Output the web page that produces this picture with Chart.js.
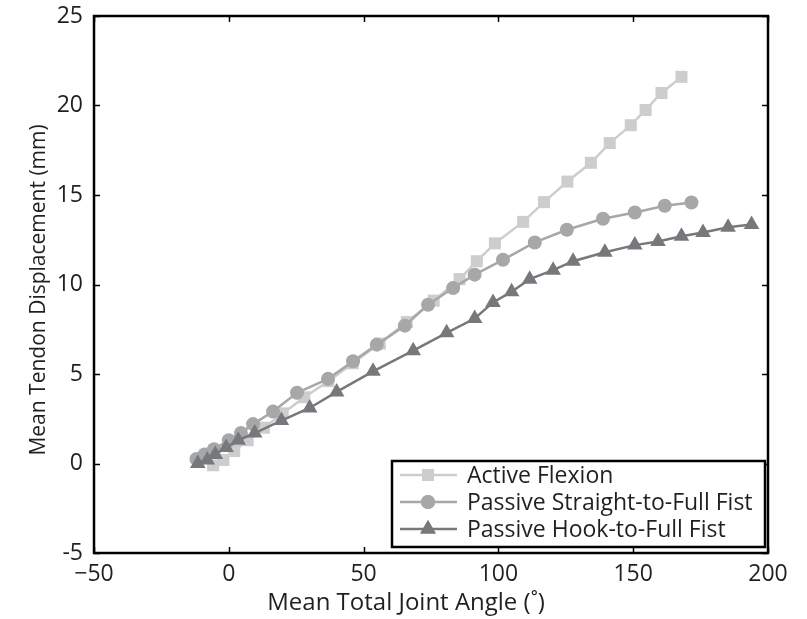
<!DOCTYPE html>
<html>
<head>
<meta charset="utf-8">
<script src="https://cdn.jsdelivr.net/npm/chart.js@4.4.0/dist/chart.umd.min.js"></script>
<style>
  html, body { margin: 0; padding: 0; background: #fff; }
</style>
</head>
<body>
<canvas id="tendonChart" width="807" height="619"></canvas>
<script>
// axis ticks
const xTicks = [-50, 0, 50, 100, 150, 200];
const yTicks = [-5, 0, 5, 10, 15, 20, 25];

// series names
const seriesNames = ['Active Flexion', 'Passive Straight-to-Full Fist', 'Passive Hook-to-Full Fist'];

// Active Flexion
const activeAngle = [-5.8, -2, 2, 7, 13, 20, 28, 37, 46, 56, 66, 76, 85.6, 92, 98.7, 109.2, 116.9, 125.6, 134.3, 141.3, 149.1, 154.6, 160.5, 167.9];
const activeDisp  = [-0.1, 0.2, 0.7, 1.3, 2.0, 2.8, 3.7, 4.6, 5.6, 6.7, 7.9, 9.1, 10.3, 11.3, 12.3, 13.5, 14.6, 15.75, 16.8, 17.9, 18.9, 19.75, 20.7, 21.6];

// Passive Straight-to-Full Fist
const straightAngle = [-12, -9, -5.5, 0, 4.5, 9, 16.4, 25.3, 36.8, 46.1, 54.9, 65.3, 73.9, 83.2, 91.2, 101.7, 113.5, 125.4, 138.8, 150.6, 161.7, 171.6];
const straightDisp  = [0.25, 0.5, 0.8, 1.3, 1.7, 2.2, 2.9, 3.95, 4.73, 5.71, 6.64, 7.7, 8.87, 9.8, 10.55, 11.38, 12.35, 13.06, 13.67, 14.02, 14.4, 14.58];

// Passive Hook-to-Full Fist
const hookAngle = [-11.5, -8, -5, -1, 3.5, 9.6, 19.5, 30, 40, 53.5, 68.4, 80.8, 91.2, 98, 104.9, 111.6, 120.3, 127.7, 139.5, 150.6, 159.2, 167.9, 175.9, 185.2, 193.9];
const hookDisp  = [0.0, 0.2, 0.5, 0.9, 1.3, 1.7, 2.4, 3.1, 4.0, 5.15, 6.3, 7.3, 8.1, 9.0, 9.6, 10.3, 10.8, 11.3, 11.8, 12.2, 12.4, 12.7, 12.9, 13.2, 13.35];

const toPoints = (xs, ys) => xs.map((x, i) => ({ x, y: ys[i] }));

const FONT = '"Open Sans", "Noto Sans", sans-serif';
const TEXT = '#231f20';
const NBSP = '\u00a0';

const series = [
  { name: seriesNames[0], data: toPoints(activeAngle, activeDisp), color: '#cdcdce', style: 'rect', radius: 8.5, order: 2 },
  { name: seriesNames[1], data: toPoints(straightAngle, straightDisp), color: '#a6a7a9', style: 'circle', radius: 7, order: 1 },
  { name: seriesNames[2], data: toPoints(hookAngle, hookDisp), color: '#77787b', style: 'triangle', radius: 9, order: 0 }
];

// frame, inward ticks and legend box
const framePlugin = {
  id: 'frame',
  afterDatasetsDraw(chart) {
    const { ctx, chartArea: a, scales } = chart;
    const tl = 6;
    ctx.save();
    ctx.strokeStyle = '#000';
    ctx.lineWidth = 1.5;
    ctx.beginPath();
    xTicks.forEach(v => {
      const px = Math.round(scales.x.getPixelForValue(v)) + 0.5;
      ctx.moveTo(px, a.bottom); ctx.lineTo(px, a.bottom - tl);
      ctx.moveTo(px, a.top); ctx.lineTo(px, a.top + tl);
    });
    yTicks.forEach(v => {
      const py = Math.round(scales.y.getPixelForValue(v)) + 0.5;
      ctx.moveTo(a.left, py); ctx.lineTo(a.left + tl, py);
      ctx.moveTo(a.right, py); ctx.lineTo(a.right - tl, py);
    });
    ctx.stroke();

    // legend
    const w = 373, h = 86;
    const lx = a.right - 3 - w, ly = a.bottom - 6 - h;
    ctx.fillStyle = '#fff';
    ctx.fillRect(lx, ly, w, h);
    ctx.lineWidth = 2.5;
    ctx.strokeRect(lx, ly, w, h);
    ctx.font = '23px ' + FONT;
    ctx.textBaseline = 'middle';
    ctx.textAlign = 'left';
    series.forEach((s, i) => {
      const y = ly + 14 + i * 27;
      ctx.strokeStyle = s.color;
      ctx.lineWidth = 2.5;
      ctx.beginPath();
      ctx.moveTo(lx + 8, y); ctx.lineTo(lx + 65, y);
      ctx.stroke();
      ctx.fillStyle = s.color;
      Chart.helpers.drawPoint(ctx, { pointStyle: s.style, radius: s.radius, borderWidth: 0 }, lx + 36, y);
      ctx.fill();
      ctx.fillStyle = TEXT;
      ctx.fillText(s.name, lx + 75, y + 1);
    });

    // axes box
    ctx.strokeStyle = '#000';
    ctx.lineWidth = 2.5;
    ctx.strokeRect(a.left, a.top, a.right - a.left, a.bottom - a.top);
    ctx.restore();
  }
};

new Chart(document.getElementById('tendonChart'), {
  type: 'scatter',
  data: {
    datasets: series.map(s => ({
      label: s.name,
      data: s.data,
      showLine: true,
      borderColor: s.color,
      backgroundColor: s.color,
      borderWidth: 2.5,
      pointStyle: s.style,
      pointRadius: s.radius,
      pointBorderWidth: 0,
      pointBackgroundColor: s.color,
      order: s.order
    }))
  },
  options: {
    responsive: false,
    devicePixelRatio: 1,
    animation: false,
    layout: { padding: { top: 16, right: 39, left: 0, bottom: 0 } },
    plugins: { legend: { display: false }, tooltip: { enabled: false } },
    scales: {
      x: {
        type: 'linear',
        min: -50,
        max: 200,
        afterBuildTicks: (s) => { s.ticks = xTicks.map(v => ({ value: v })); },
        afterFit: (s) => { s.height = 66; s.paddingLeft = 0; s.paddingRight = 0; },
        grid: { display: false, drawTicks: false },
        border: { display: false },
        ticks: {
          color: TEXT,
          font: { family: FONT, size: 23 },
          padding: 8,
          maxRotation: 0,
          callback: (v) => v < 0 ? '\u2212' + Math.abs(v) : String(v)
        },
        title: {
          display: true,
          text: 'Mean Total Joint Angle (\u02da)' + NBSP.repeat(8),
          color: TEXT,
          font: { family: FONT, size: 24 },
          padding: { top: 0, bottom: 1 }
        }
      },
      y: {
        type: 'linear',
        min: -5,
        max: 25,
        afterBuildTicks: (s) => { s.ticks = yTicks.map(v => ({ value: v })); },
        afterFit: (s) => { s.width = 94; s.paddingTop = 0; s.paddingBottom = 0; },
        grid: { display: false, drawTicks: false },
        border: { display: false },
        ticks: {
          color: TEXT,
          font: { family: FONT, size: 23 },
          padding: 11,
          callback: (v) => String(v)
        },
        title: {
          display: true,
          text: 'Mean Tendon Displacement (mm)' + NBSP.repeat(2),
          color: TEXT,
          font: { family: FONT, size: 21 },
          padding: { top: 26, bottom: 0 }
        }
      }
    }
  },
  plugins: [framePlugin]
});
</script>
</body>
</html>
